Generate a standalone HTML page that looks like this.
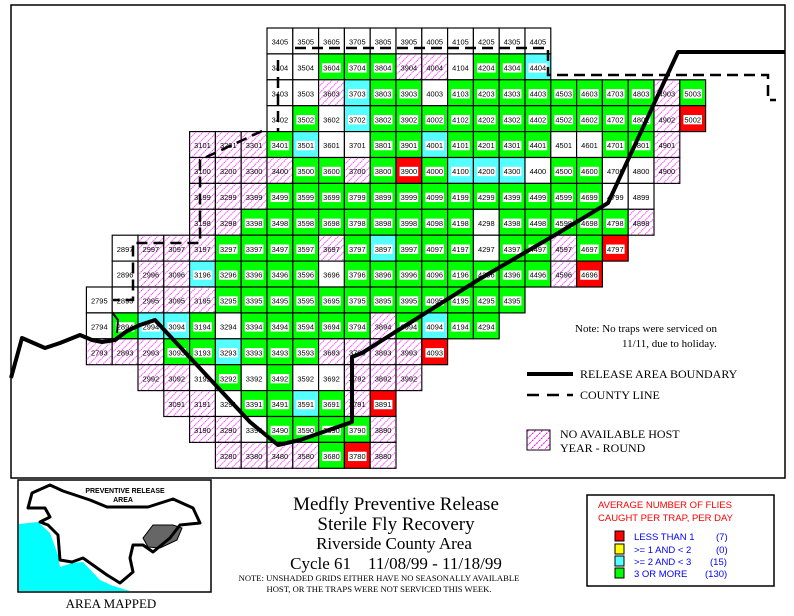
<!DOCTYPE html>
<html><head><meta charset="utf-8"><style>
body{margin:0;background:#fff;width:794px;height:616px;overflow:hidden}
svg{display:block}
.t text{font-family:"Liberation Sans",sans-serif;font-size:.29px;text-anchor:middle;fill:#000}
.s{font-family:"Liberation Serif",serif;fill:#000}
.a{font-family:"Liberation Sans",sans-serif}
</style></head><body>
<svg width="794" height="616" viewBox="0 0 794 616">
<defs>
<pattern id="hp" patternUnits="userSpaceOnUse" width=".27" height=".27"><path d="M0 .27L.27 0" stroke="#f0f" stroke-width=".03" stroke-dasharray=".05 .03"/></pattern>
<pattern id="hp2" patternUnits="userSpaceOnUse" width="7" height="7"><path d="M0 7L7 0" stroke="#f0f" stroke-width="1" stroke-dasharray="2 1"/></pattern>
<g id="W"><rect width="1" height="1" fill="#fff" stroke="#000" stroke-width=".045"/></g>
<g id="H"><rect width="1" height="1" fill="#fff" stroke="#000" stroke-width=".045"/><rect width="1" height="1" fill="url(#hp)"/></g>
<g id="G"><rect width="1" height="1" fill="#00ff00" stroke="#000" stroke-width=".045"/><rect x=".14" y=".36" width=".72" height=".36" fill="#fff"/></g>
<g id="C"><rect width="1" height="1" fill="#55ffff" stroke="#000" stroke-width=".045"/><rect x=".14" y=".36" width=".72" height=".36" fill="#fff"/></g>
<g id="R"><rect width="1" height="1" fill="#ff0000" stroke="#000" stroke-width=".045"/><rect x=".14" y=".36" width=".72" height=".36" fill="#fff"/></g>
</defs>
<rect x="11" y="5" width="774" height="473" fill="none" stroke="#000" stroke-width="1.5"/>
<g class="t" transform="translate(86.4 28) scale(25.8 25.9)">
<use href="#W" x="7" y="0"/><text x="7.5" y=".64">3405</text>
<use href="#W" x="8" y="0"/><text x="8.5" y=".64">3505</text>
<use href="#W" x="9" y="0"/><text x="9.5" y=".64">3605</text>
<use href="#W" x="10" y="0"/><text x="10.5" y=".64">3705</text>
<use href="#W" x="11" y="0"/><text x="11.5" y=".64">3805</text>
<use href="#W" x="12" y="0"/><text x="12.5" y=".64">3905</text>
<use href="#W" x="13" y="0"/><text x="13.5" y=".64">4005</text>
<use href="#W" x="14" y="0"/><text x="14.5" y=".64">4105</text>
<use href="#W" x="15" y="0"/><text x="15.5" y=".64">4205</text>
<use href="#W" x="16" y="0"/><text x="16.5" y=".64">4305</text>
<use href="#W" x="17" y="0"/><text x="17.5" y=".64">4405</text>

<use href="#W" x="7" y="1"/><text x="7.5" y="1.64">3404</text>
<use href="#W" x="8" y="1"/><text x="8.5" y="1.64">3504</text>
<use href="#G" x="9" y="1"/><text x="9.5" y="1.64">3604</text>
<use href="#G" x="10" y="1"/><text x="10.5" y="1.64">3704</text>
<use href="#G" x="11" y="1"/><text x="11.5" y="1.64">3804</text>
<use href="#H" x="12" y="1"/><text x="12.5" y="1.64">3904</text>
<use href="#H" x="13" y="1"/><text x="13.5" y="1.64">4004</text>
<use href="#W" x="14" y="1"/><text x="14.5" y="1.64">4104</text>
<use href="#G" x="15" y="1"/><text x="15.5" y="1.64">4204</text>
<use href="#G" x="16" y="1"/><text x="16.5" y="1.64">4304</text>
<use href="#C" x="17" y="1"/><text x="17.5" y="1.64">4404</text>

<use href="#W" x="7" y="2"/><text x="7.5" y="2.64">3403</text>
<use href="#W" x="8" y="2"/><text x="8.5" y="2.64">3503</text>
<use href="#H" x="9" y="2"/><text x="9.5" y="2.64">3603</text>
<use href="#C" x="10" y="2"/><text x="10.5" y="2.64">3703</text>
<use href="#G" x="11" y="2"/><text x="11.5" y="2.64">3803</text>
<use href="#G" x="12" y="2"/><text x="12.5" y="2.64">3903</text>
<use href="#W" x="13" y="2"/><text x="13.5" y="2.64">4003</text>
<use href="#G" x="14" y="2"/><text x="14.5" y="2.64">4103</text>
<use href="#G" x="15" y="2"/><text x="15.5" y="2.64">4203</text>
<use href="#G" x="16" y="2"/><text x="16.5" y="2.64">4303</text>
<use href="#G" x="17" y="2"/><text x="17.5" y="2.64">4403</text>
<use href="#G" x="18" y="2"/><text x="18.5" y="2.64">4503</text>
<use href="#G" x="19" y="2"/><text x="19.5" y="2.64">4603</text>
<use href="#G" x="20" y="2"/><text x="20.5" y="2.64">4703</text>
<use href="#G" x="21" y="2"/><text x="21.5" y="2.64">4803</text>
<use href="#H" x="22" y="2"/><text x="22.5" y="2.64">4903</text>
<use href="#G" x="23" y="2"/><text x="23.5" y="2.64">5003</text>

<use href="#W" x="7" y="3"/><text x="7.5" y="3.64">3402</text>
<use href="#G" x="8" y="3"/><text x="8.5" y="3.64">3502</text>
<use href="#W" x="9" y="3"/><text x="9.5" y="3.64">3602</text>
<use href="#C" x="10" y="3"/><text x="10.5" y="3.64">3702</text>
<use href="#G" x="11" y="3"/><text x="11.5" y="3.64">3802</text>
<use href="#G" x="12" y="3"/><text x="12.5" y="3.64">3902</text>
<use href="#G" x="13" y="3"/><text x="13.5" y="3.64">4002</text>
<use href="#G" x="14" y="3"/><text x="14.5" y="3.64">4102</text>
<use href="#G" x="15" y="3"/><text x="15.5" y="3.64">4202</text>
<use href="#G" x="16" y="3"/><text x="16.5" y="3.64">4302</text>
<use href="#G" x="17" y="3"/><text x="17.5" y="3.64">4402</text>
<use href="#G" x="18" y="3"/><text x="18.5" y="3.64">4502</text>
<use href="#G" x="19" y="3"/><text x="19.5" y="3.64">4602</text>
<use href="#G" x="20" y="3"/><text x="20.5" y="3.64">4702</text>
<use href="#G" x="21" y="3"/><text x="21.5" y="3.64">4802</text>
<use href="#H" x="22" y="3"/><text x="22.5" y="3.64">4902</text>
<use href="#R" x="23" y="3"/><text x="23.5" y="3.64">5002</text>

<use href="#H" x="4" y="4"/><text x="4.5" y="4.64">3101</text>
<use href="#H" x="5" y="4"/><text x="5.5" y="4.64">3201</text>
<use href="#H" x="6" y="4"/><text x="6.5" y="4.64">3301</text>
<use href="#G" x="7" y="4"/><text x="7.5" y="4.64">3401</text>
<use href="#C" x="8" y="4"/><text x="8.5" y="4.64">3501</text>
<use href="#W" x="9" y="4"/><text x="9.5" y="4.64">3601</text>
<use href="#W" x="10" y="4"/><text x="10.5" y="4.64">3701</text>
<use href="#G" x="11" y="4"/><text x="11.5" y="4.64">3801</text>
<use href="#G" x="12" y="4"/><text x="12.5" y="4.64">3901</text>
<use href="#C" x="13" y="4"/><text x="13.5" y="4.64">4001</text>
<use href="#G" x="14" y="4"/><text x="14.5" y="4.64">4101</text>
<use href="#G" x="15" y="4"/><text x="15.5" y="4.64">4201</text>
<use href="#G" x="16" y="4"/><text x="16.5" y="4.64">4301</text>
<use href="#G" x="17" y="4"/><text x="17.5" y="4.64">4401</text>
<use href="#W" x="18" y="4"/><text x="18.5" y="4.64">4501</text>
<use href="#W" x="19" y="4"/><text x="19.5" y="4.64">4601</text>
<use href="#G" x="20" y="4"/><text x="20.5" y="4.64">4701</text>
<use href="#G" x="21" y="4"/><text x="21.5" y="4.64">4801</text>
<use href="#H" x="22" y="4"/><text x="22.5" y="4.64">4901</text>

<use href="#H" x="4" y="5"/><text x="4.5" y="5.64">3100</text>
<use href="#H" x="5" y="5"/><text x="5.5" y="5.64">3200</text>
<use href="#H" x="6" y="5"/><text x="6.5" y="5.64">3300</text>
<use href="#H" x="7" y="5"/><text x="7.5" y="5.64">3400</text>
<use href="#G" x="8" y="5"/><text x="8.5" y="5.64">3500</text>
<use href="#G" x="9" y="5"/><text x="9.5" y="5.64">3600</text>
<use href="#H" x="10" y="5"/><text x="10.5" y="5.64">3700</text>
<use href="#G" x="11" y="5"/><text x="11.5" y="5.64">3800</text>
<use href="#R" x="12" y="5"/><text x="12.5" y="5.64">3900</text>
<use href="#G" x="13" y="5"/><text x="13.5" y="5.64">4000</text>
<use href="#C" x="14" y="5"/><text x="14.5" y="5.64">4100</text>
<use href="#C" x="15" y="5"/><text x="15.5" y="5.64">4200</text>
<use href="#C" x="16" y="5"/><text x="16.5" y="5.64">4300</text>
<use href="#W" x="17" y="5"/><text x="17.5" y="5.64">4400</text>
<use href="#G" x="18" y="5"/><text x="18.5" y="5.64">4500</text>
<use href="#G" x="19" y="5"/><text x="19.5" y="5.64">4600</text>
<use href="#W" x="20" y="5"/><text x="20.5" y="5.64">4700</text>
<use href="#W" x="21" y="5"/><text x="21.5" y="5.64">4800</text>
<use href="#H" x="22" y="5"/><text x="22.5" y="5.64">4900</text>

<use href="#H" x="4" y="6"/><text x="4.5" y="6.64">3199</text>
<use href="#H" x="5" y="6"/><text x="5.5" y="6.64">3299</text>
<use href="#H" x="6" y="6"/><text x="6.5" y="6.64">3399</text>
<use href="#G" x="7" y="6"/><text x="7.5" y="6.64">3499</text>
<use href="#G" x="8" y="6"/><text x="8.5" y="6.64">3599</text>
<use href="#G" x="9" y="6"/><text x="9.5" y="6.64">3699</text>
<use href="#G" x="10" y="6"/><text x="10.5" y="6.64">3799</text>
<use href="#G" x="11" y="6"/><text x="11.5" y="6.64">3899</text>
<use href="#G" x="12" y="6"/><text x="12.5" y="6.64">3999</text>
<use href="#G" x="13" y="6"/><text x="13.5" y="6.64">4099</text>
<use href="#G" x="14" y="6"/><text x="14.5" y="6.64">4199</text>
<use href="#G" x="15" y="6"/><text x="15.5" y="6.64">4299</text>
<use href="#G" x="16" y="6"/><text x="16.5" y="6.64">4399</text>
<use href="#G" x="17" y="6"/><text x="17.5" y="6.64">4499</text>
<use href="#G" x="18" y="6"/><text x="18.5" y="6.64">4599</text>
<use href="#G" x="19" y="6"/><text x="19.5" y="6.64">4699</text>
<use href="#W" x="20" y="6"/><text x="20.5" y="6.64">4799</text>
<use href="#W" x="21" y="6"/><text x="21.5" y="6.64">4899</text>

<use href="#H" x="4" y="7"/><text x="4.5" y="7.64">3198</text>
<use href="#H" x="5" y="7"/><text x="5.5" y="7.64">3298</text>
<use href="#G" x="6" y="7"/><text x="6.5" y="7.64">3398</text>
<use href="#G" x="7" y="7"/><text x="7.5" y="7.64">3498</text>
<use href="#G" x="8" y="7"/><text x="8.5" y="7.64">3598</text>
<use href="#G" x="9" y="7"/><text x="9.5" y="7.64">3698</text>
<use href="#G" x="10" y="7"/><text x="10.5" y="7.64">3798</text>
<use href="#G" x="11" y="7"/><text x="11.5" y="7.64">3898</text>
<use href="#G" x="12" y="7"/><text x="12.5" y="7.64">3998</text>
<use href="#G" x="13" y="7"/><text x="13.5" y="7.64">4098</text>
<use href="#G" x="14" y="7"/><text x="14.5" y="7.64">4198</text>
<use href="#W" x="15" y="7"/><text x="15.5" y="7.64">4298</text>
<use href="#G" x="16" y="7"/><text x="16.5" y="7.64">4398</text>
<use href="#G" x="17" y="7"/><text x="17.5" y="7.64">4498</text>
<use href="#G" x="18" y="7"/><text x="18.5" y="7.64">4598</text>
<use href="#G" x="19" y="7"/><text x="19.5" y="7.64">4698</text>
<use href="#G" x="20" y="7"/><text x="20.5" y="7.64">4798</text>
<use href="#H" x="21" y="7"/><text x="21.5" y="7.64">4898</text>

<use href="#W" x="1" y="8"/><text x="1.5" y="8.64">2897</text>
<use href="#H" x="2" y="8"/><text x="2.5" y="8.64">2997</text>
<use href="#H" x="3" y="8"/><text x="3.5" y="8.64">3097</text>
<use href="#H" x="4" y="8"/><text x="4.5" y="8.64">3197</text>
<use href="#G" x="5" y="8"/><text x="5.5" y="8.64">3297</text>
<use href="#G" x="6" y="8"/><text x="6.5" y="8.64">3397</text>
<use href="#G" x="7" y="8"/><text x="7.5" y="8.64">3497</text>
<use href="#G" x="8" y="8"/><text x="8.5" y="8.64">3597</text>
<use href="#H" x="9" y="8"/><text x="9.5" y="8.64">3697</text>
<use href="#G" x="10" y="8"/><text x="10.5" y="8.64">3797</text>
<use href="#C" x="11" y="8"/><text x="11.5" y="8.64">3897</text>
<use href="#G" x="12" y="8"/><text x="12.5" y="8.64">3997</text>
<use href="#G" x="13" y="8"/><text x="13.5" y="8.64">4097</text>
<use href="#G" x="14" y="8"/><text x="14.5" y="8.64">4197</text>
<use href="#W" x="15" y="8"/><text x="15.5" y="8.64">4297</text>
<use href="#G" x="16" y="8"/><text x="16.5" y="8.64">4397</text>
<use href="#G" x="17" y="8"/><text x="17.5" y="8.64">4497</text>
<use href="#H" x="18" y="8"/><text x="18.5" y="8.64">4597</text>
<use href="#G" x="19" y="8"/><text x="19.5" y="8.64">4697</text>
<use href="#R" x="20" y="8"/><text x="20.5" y="8.64">4797</text>

<use href="#W" x="1" y="9"/><text x="1.5" y="9.64">2896</text>
<use href="#H" x="2" y="9"/><text x="2.5" y="9.64">2996</text>
<use href="#H" x="3" y="9"/><text x="3.5" y="9.64">3096</text>
<use href="#C" x="4" y="9"/><text x="4.5" y="9.64">3196</text>
<use href="#G" x="5" y="9"/><text x="5.5" y="9.64">3296</text>
<use href="#G" x="6" y="9"/><text x="6.5" y="9.64">3396</text>
<use href="#G" x="7" y="9"/><text x="7.5" y="9.64">3496</text>
<use href="#G" x="8" y="9"/><text x="8.5" y="9.64">3596</text>
<use href="#W" x="9" y="9"/><text x="9.5" y="9.64">3696</text>
<use href="#G" x="10" y="9"/><text x="10.5" y="9.64">3796</text>
<use href="#G" x="11" y="9"/><text x="11.5" y="9.64">3896</text>
<use href="#G" x="12" y="9"/><text x="12.5" y="9.64">3996</text>
<use href="#G" x="13" y="9"/><text x="13.5" y="9.64">4096</text>
<use href="#G" x="14" y="9"/><text x="14.5" y="9.64">4196</text>
<use href="#G" x="15" y="9"/><text x="15.5" y="9.64">4296</text>
<use href="#G" x="16" y="9"/><text x="16.5" y="9.64">4396</text>
<use href="#G" x="17" y="9"/><text x="17.5" y="9.64">4496</text>
<use href="#H" x="18" y="9"/><text x="18.5" y="9.64">4596</text>
<use href="#R" x="19" y="9"/><text x="19.5" y="9.64">4696</text>

<use href="#W" x="0" y="10"/><text x=".5" y="10.64">2795</text>
<use href="#W" x="1" y="10"/><text x="1.5" y="10.64">2895</text>
<use href="#H" x="2" y="10"/><text x="2.5" y="10.64">2995</text>
<use href="#H" x="3" y="10"/><text x="3.5" y="10.64">3095</text>
<use href="#H" x="4" y="10"/><text x="4.5" y="10.64">3195</text>
<use href="#G" x="5" y="10"/><text x="5.5" y="10.64">3295</text>
<use href="#G" x="6" y="10"/><text x="6.5" y="10.64">3395</text>
<use href="#G" x="7" y="10"/><text x="7.5" y="10.64">3495</text>
<use href="#G" x="8" y="10"/><text x="8.5" y="10.64">3595</text>
<use href="#G" x="9" y="10"/><text x="9.5" y="10.64">3695</text>
<use href="#G" x="10" y="10"/><text x="10.5" y="10.64">3795</text>
<use href="#G" x="11" y="10"/><text x="11.5" y="10.64">3895</text>
<use href="#G" x="12" y="10"/><text x="12.5" y="10.64">3995</text>
<use href="#G" x="13" y="10"/><text x="13.5" y="10.64">4095</text>
<use href="#G" x="14" y="10"/><text x="14.5" y="10.64">4195</text>
<use href="#G" x="15" y="10"/><text x="15.5" y="10.64">4295</text>
<use href="#G" x="16" y="10"/><text x="16.5" y="10.64">4395</text>

<use href="#W" x="0" y="11"/><text x=".5" y="11.64">2794</text>
<use href="#G" x="1" y="11"/><text x="1.5" y="11.64">2894</text>
<use href="#C" x="2" y="11"/><text x="2.5" y="11.64">2994</text>
<use href="#C" x="3" y="11"/><text x="3.5" y="11.64">3094</text>
<use href="#G" x="4" y="11"/><text x="4.5" y="11.64">3194</text>
<use href="#W" x="5" y="11"/><text x="5.5" y="11.64">3294</text>
<use href="#G" x="6" y="11"/><text x="6.5" y="11.64">3394</text>
<use href="#G" x="7" y="11"/><text x="7.5" y="11.64">3494</text>
<use href="#G" x="8" y="11"/><text x="8.5" y="11.64">3594</text>
<use href="#G" x="9" y="11"/><text x="9.5" y="11.64">3694</text>
<use href="#G" x="10" y="11"/><text x="10.5" y="11.64">3794</text>
<use href="#H" x="11" y="11"/><text x="11.5" y="11.64">3894</text>
<use href="#G" x="12" y="11"/><text x="12.5" y="11.64">3994</text>
<use href="#C" x="13" y="11"/><text x="13.5" y="11.64">4094</text>
<use href="#G" x="14" y="11"/><text x="14.5" y="11.64">4194</text>
<use href="#G" x="15" y="11"/><text x="15.5" y="11.64">4294</text>

<use href="#H" x="0" y="12"/><text x=".5" y="12.64">2793</text>
<use href="#H" x="1" y="12"/><text x="1.5" y="12.64">2893</text>
<use href="#H" x="2" y="12"/><text x="2.5" y="12.64">2993</text>
<use href="#G" x="3" y="12"/><text x="3.5" y="12.64">3093</text>
<use href="#G" x="4" y="12"/><text x="4.5" y="12.64">3193</text>
<use href="#C" x="5" y="12"/><text x="5.5" y="12.64">3293</text>
<use href="#G" x="6" y="12"/><text x="6.5" y="12.64">3393</text>
<use href="#G" x="7" y="12"/><text x="7.5" y="12.64">3493</text>
<use href="#G" x="8" y="12"/><text x="8.5" y="12.64">3593</text>
<use href="#H" x="9" y="12"/><text x="9.5" y="12.64">3693</text>
<use href="#H" x="10" y="12"/><text x="10.5" y="12.64">3793</text>
<use href="#H" x="11" y="12"/><text x="11.5" y="12.64">3893</text>
<use href="#H" x="12" y="12"/><text x="12.5" y="12.64">3993</text>
<use href="#R" x="13" y="12"/><text x="13.5" y="12.64">4093</text>

<use href="#H" x="2" y="13"/><text x="2.5" y="13.64">2992</text>
<use href="#H" x="3" y="13"/><text x="3.5" y="13.64">3092</text>
<use href="#W" x="4" y="13"/><text x="4.5" y="13.64">3192</text>
<use href="#G" x="5" y="13"/><text x="5.5" y="13.64">3292</text>
<use href="#W" x="6" y="13"/><text x="6.5" y="13.64">3392</text>
<use href="#G" x="7" y="13"/><text x="7.5" y="13.64">3492</text>
<use href="#W" x="8" y="13"/><text x="8.5" y="13.64">3592</text>
<use href="#W" x="9" y="13"/><text x="9.5" y="13.64">3692</text>
<use href="#H" x="10" y="13"/><text x="10.5" y="13.64">3792</text>
<use href="#H" x="11" y="13"/><text x="11.5" y="13.64">3892</text>
<use href="#H" x="12" y="13"/><text x="12.5" y="13.64">3992</text>

<use href="#H" x="3" y="14"/><text x="3.5" y="14.64">3091</text>
<use href="#H" x="4" y="14"/><text x="4.5" y="14.64">3191</text>
<use href="#W" x="5" y="14"/><text x="5.5" y="14.64">3291</text>
<use href="#G" x="6" y="14"/><text x="6.5" y="14.64">3391</text>
<use href="#G" x="7" y="14"/><text x="7.5" y="14.64">3491</text>
<use href="#C" x="8" y="14"/><text x="8.5" y="14.64">3591</text>
<use href="#G" x="9" y="14"/><text x="9.5" y="14.64">3691</text>
<use href="#H" x="10" y="14"/><text x="10.5" y="14.64">3791</text>
<use href="#R" x="11" y="14"/><text x="11.5" y="14.64">3891</text>

<use href="#H" x="4" y="15"/><text x="4.5" y="15.64">3190</text>
<use href="#H" x="5" y="15"/><text x="5.5" y="15.64">3290</text>
<use href="#W" x="6" y="15"/><text x="6.5" y="15.64">3390</text>
<use href="#G" x="7" y="15"/><text x="7.5" y="15.64">3490</text>
<use href="#G" x="8" y="15"/><text x="8.5" y="15.64">3590</text>
<use href="#G" x="9" y="15"/><text x="9.5" y="15.64">3690</text>
<use href="#G" x="10" y="15"/><text x="10.5" y="15.64">3790</text>
<use href="#H" x="11" y="15"/><text x="11.5" y="15.64">3890</text>

<use href="#H" x="5" y="16"/><text x="5.5" y="16.64">3280</text>
<use href="#H" x="6" y="16"/><text x="6.5" y="16.64">3380</text>
<use href="#H" x="7" y="16"/><text x="7.5" y="16.64">3480</text>
<use href="#H" x="8" y="16"/><text x="8.5" y="16.64">3580</text>
<use href="#G" x="9" y="16"/><text x="9.5" y="16.64">3680</text>
<use href="#R" x="10" y="16"/><text x="10.5" y="16.64">3780</text>
<use href="#H" x="11" y="16"/><text x="11.5" y="16.64">3880</text>
</g>

<g fill="none" stroke="#000" stroke-width="2.5" stroke-dasharray="11 6">
<path d="M295 48L548 48L548 75L768 75L768 100L776 100"/>
<path d="M278 60L278 132"/>
<path d="M262 131L200 160L200 243L133 243L133 300L113 300"/>
</g>
<path d="M11 378L22 338L45 348L60 343L80 335L92 340L102 342L115 340L127 331L140 325L155 320L250 422L278 445L300 440L352 422L352 357L362 353L478 280L560 232L608 203L678 52L785 52" fill="none" stroke="#000" stroke-width="4" stroke-linejoin="round"/>
<path d="M112 312L118 320L117 333" fill="none" stroke="#000" stroke-width="2"/>

<text class="s" x="575" y="332" font-size="11">Note: No traps were serviced on</text>
<text class="s" x="622" y="347" font-size="11">11/11, due to holiday.</text>
<line x1="527" y1="374" x2="573" y2="374" stroke="#000" stroke-width="4"/>
<text class="s" x="580" y="378" font-size="12">RELEASE AREA BOUNDARY</text>
<line x1="527" y1="395" x2="573" y2="395" stroke="#000" stroke-width="2.5" stroke-dasharray="12 8"/>
<text class="s" x="580" y="399" font-size="12">COUNTY LINE</text>
<rect x="527" y="430" width="23" height="20" fill="#fff" stroke="#000"/>
<rect x="527" y="430" width="23" height="20" fill="url(#hp2)"/>
<text class="s" x="560" y="438" font-size="12">NO AVAILABLE HOST</text>
<text class="s" x="560" y="452" font-size="12">YEAR - ROUND</text>

<rect x="18" y="480" width="193" height="112" fill="#fff" stroke="#000" stroke-width="1.5"/>
<path d="M19 524L38 522L50 533L58 555L60 567L72 563L83 562L100 580L113 586L130 591L19 591Z" fill="#00ffff"/>
<path d="M143 538L153 525L173 525L182 528L177 540L160 548L148 547Z" fill="#666" stroke="#000"/>
<path d="M28 508L32 493L50 485L63 491L90 500L107 507L148 507L173 499L193 508L200 523L180 525L170 538L153 552L143 545L133 545L130 558L133 572L120 583L107 575L83 558L72 562L60 560L58 535L48 525L40 522L50 517L45 508Z" fill="none" stroke="#000" stroke-width="3" stroke-linejoin="round"/>
<text class="a" x="125" y="493" font-size="7" text-anchor="middle" font-weight="bold">PREVENTIVE RELEASE</text>
<text class="a" x="123" y="502" font-size="7" text-anchor="middle" font-weight="bold">AREA</text>
<text class="s" x="111" y="608" font-size="13" text-anchor="middle">AREA MAPPED</text>

<g class="s" text-anchor="middle">
<text x="396" y="510" font-size="19">Medfly Preventive Release</text>
<text x="396" y="530" font-size="19">Sterile Fly Recovery</text>
<text x="394" y="549" font-size="17">Riverside County Area</text>
<text x="396" y="569" font-size="17" xml:space="preserve">Cycle 61    11/08/99 - 11/18/99</text>
<text x="379" y="581" font-size="8.6">NOTE: UNSHADED GRIDS EITHER HAVE NO SEASONALLY AVAILABLE</text>
<text x="379" y="592" font-size="8.6">HOST, OR THE TRAPS WERE NOT SERVICED THIS WEEK.</text>
</g>

<rect x="587" y="495" width="187" height="91" fill="#fff" stroke="#000" stroke-width="1.5"/>
<g class="a" font-size="9.5">
<text x="598" y="508" fill="#ff0000">AVERAGE NUMBER OF FLIES</text>
<text x="598" y="521" fill="#ff0000">CAUGHT PER TRAP, PER DAY</text>
<rect x="615" y="531" width="9" height="10" fill="#ff0000" stroke="#000"/>
<rect x="615" y="544" width="9" height="10" fill="#ffff00" stroke="#000"/>
<rect x="615" y="556" width="9" height="10" fill="#55ffff" stroke="#000"/>
<rect x="615" y="568" width="9" height="10" fill="#00ff00" stroke="#000"/>
<text x="634" y="540" fill="#0000ff">LESS THAN 1</text><text x="716" y="540" fill="#0000ff">(7)</text>
<text x="634" y="553" fill="#0000ff">&gt;= 1 AND &lt; 2</text><text x="716" y="553" fill="#0000ff">(0)</text>
<text x="634" y="565" fill="#0000ff">&gt;= 2 AND &lt; 3</text><text x="710" y="565" fill="#0000ff">(15)</text>
<text x="634" y="577" fill="#0000ff">3 OR MORE</text><text x="705" y="577" fill="#0000ff">(130)</text>
</g>
</svg>
</body></html>
